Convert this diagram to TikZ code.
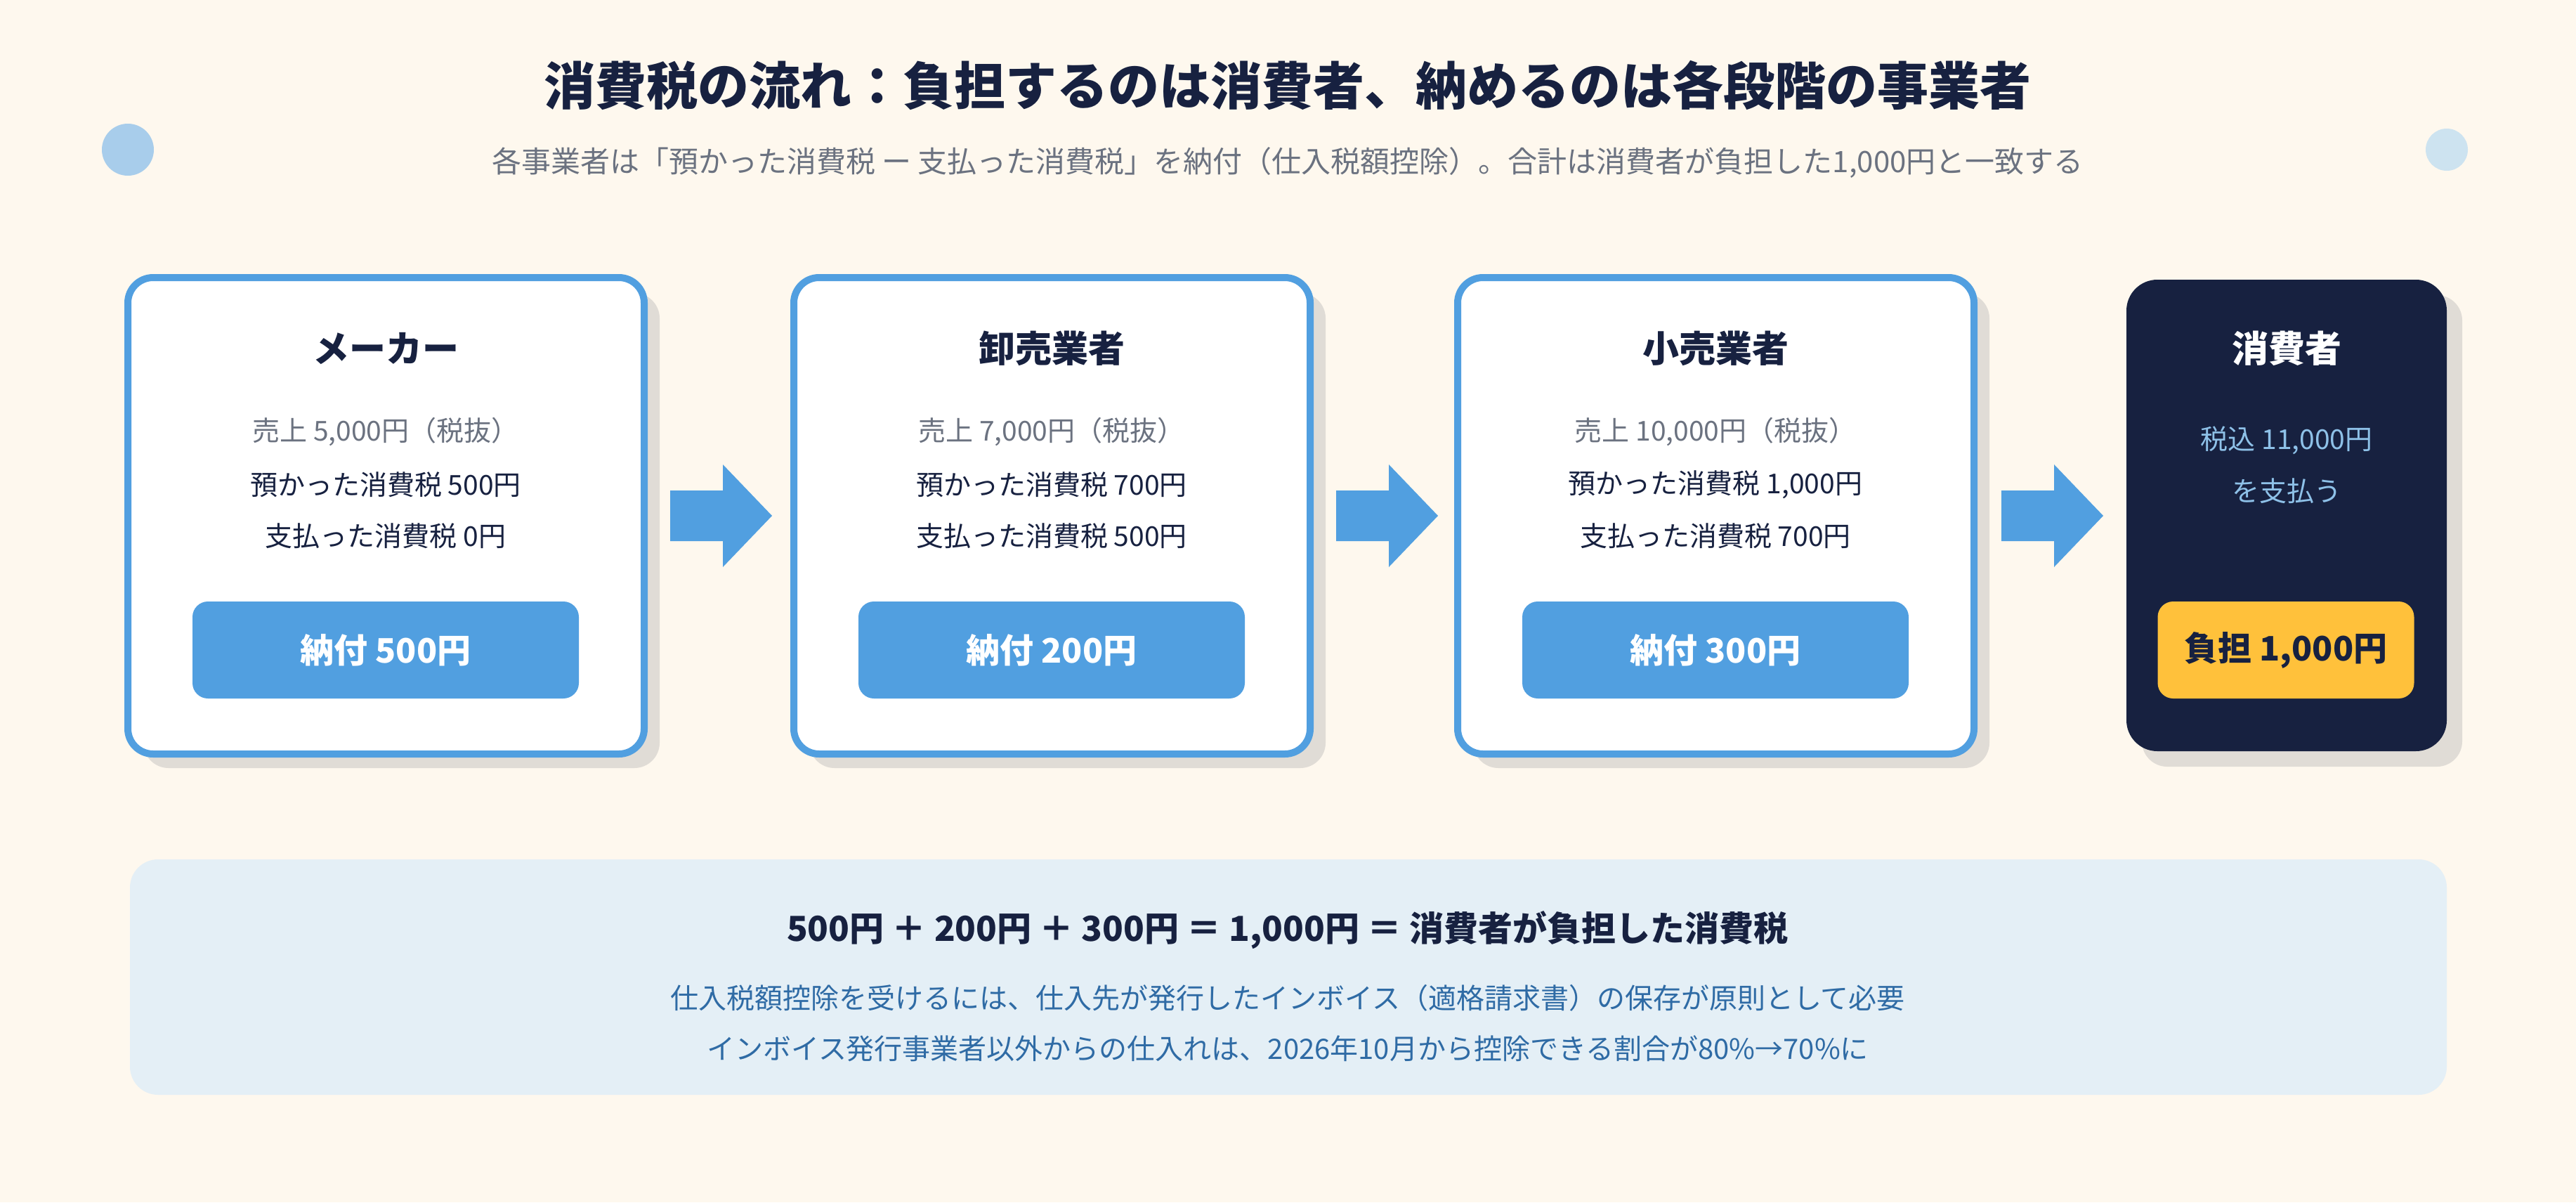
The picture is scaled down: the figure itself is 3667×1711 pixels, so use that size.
\documentclass[tikz,border=0pt]{standalone}
\usepackage{fontspec}
\setmainfont{Noto Sans CJK JP}
\usetikzlibrary{positioning}
\definecolor{bg}{HTML}{FEF8EE}
\definecolor{navy}{HTML}{172140}
\definecolor{blu}{HTML}{519FE0}
\definecolor{gry}{HTML}{6B7280}
\definecolor{shd}{HTML}{E0DCD6}
\definecolor{ylw}{HTML}{FFC13B}
\definecolor{lbl}{HTML}{8EC1E8}
\definecolor{pnl}{HTML}{E4EFF6}
\definecolor{ptx}{HTML}{2F6BA5}
\tikzset{
 x=1pt,y=-1pt,
 card/.style={draw=blu,line width=10pt,fill=white,rounded corners=36pt},
 shadow/.style={fill=shd,rounded corners=36pt},
 ttl/.style={font=\fontsize{52}{60}\selectfont\bfseries,text=navy},
 ln/.style={font=\fontsize{39}{46}\selectfont,text=navy},
 gl/.style={font=\fontsize{39}{46}\selectfont,text=gry},
 btn/.style={fill=blu,rounded corners=22pt,minimum width=550pt,minimum height=138pt,font=\fontsize{48}{56}\selectfont\bfseries,text=white},
 arr/.style={fill=blu},
}
\begin{document}
\begin{tikzpicture}
\fill[bg] (0,0) rectangle (3667,1711);
\useasboundingbox (0,0) rectangle (3667,1711);
\node[font=\fontsize{73}{84}\selectfont\bfseries,text=navy] (title) at (1833,122) {消費税の流れ：負担するのは消費者、納めるのは各段階の事業者};
\node[font=\fontsize{42}{50}\selectfont,text=gry] (sub) at (1833,232) {各事業者は「預かった消費税 ー 支払った消費税」を納付（仕入税額控除）。合計は消費者が負担した1,000円と一致する};
\fill[fill={rgb,255:red,168;green,205;blue,235}] (182,213) circle (37);
\fill[fill={rgb,255:red,205;green,227;blue,240}] (3483,213) circle (30);
% cards
\foreach \x/\n/\t/\a/\b/\c/\p in {182/c1/メーカー/{5,000}/500/0/500, 1130/c2/卸売業者/{7,000}/700/500/200, 2075/c3/小売業者/{10,000}/{1,000}/700/300}{
 \fill[shadow] (\x+22,417) rectangle (\x+757,1093);
 \draw[card] (\x,395) rectangle (\x+735,1073);
 \node[ttl] (\n t) at (\x+367,496) {\t};
 \node[gl] (\n a) at (\x+367,615) {売上 \a 円（税抜）};
 \node[ln] (\n b) at (\x+367,690) {預かった消費税 \b 円};
 \node[ln] (\n c) at (\x+367,763) {支払った消費税 \c 円};
 \node[btn] (\n p) at (\x+367,925) {納付 \p 円};
}
\fill[shadow] (3049,420) rectangle (3505,1091);
\fill[navy,rounded corners=44pt] (3027,398) rectangle (3483,1069);
\node[ttl,text=white] (c4t) at (3255,496) {消費者};
\node[font=\fontsize{39}{46}\selectfont,text=lbl] (c4a) at (3255,627) {税込 11,000円};
\node[font=\fontsize{39}{46}\selectfont,text=lbl] (c4b) at (3255,699) {を支払う};
\node[btn,fill=ylw,text=navy,minimum width=365pt] (c4p) at (3254,925) {負担 1,000円};
% arrows
\foreach \x in {954,1902,2849}{
 \fill[arr] (\x,698) -- (\x+75,698) -- (\x+75,661) -- (\x+145,734) -- (\x+75,807) -- (\x+75,770) -- (\x,770) -- cycle;
}
% panel
\fill[pnl,rounded corners=40pt] (185,1223) rectangle (3483,1558);
\node[font=\fontsize{49}{56}\selectfont\bfseries,text=navy] (sum) at (1833,1324) {500円 ＋ 200円 ＋ 300円 ＝ 1,000円 ＝ 消費者が負担した消費税};
\node[font=\fontsize{40}{48}\selectfont,text=ptx] (n1) at (1833,1420) {仕入税額控除を受けるには、仕入先が発行したインボイス（適格請求書）の保存が原則として必要};
\node[font=\fontsize{40}{48}\selectfont,text=ptx] (n2) at (1833,1492) {インボイス発行事業者以外からの仕入れは、2026年10月から控除できる割合が80\%→70\%に};
\end{tikzpicture}
\end{document}
